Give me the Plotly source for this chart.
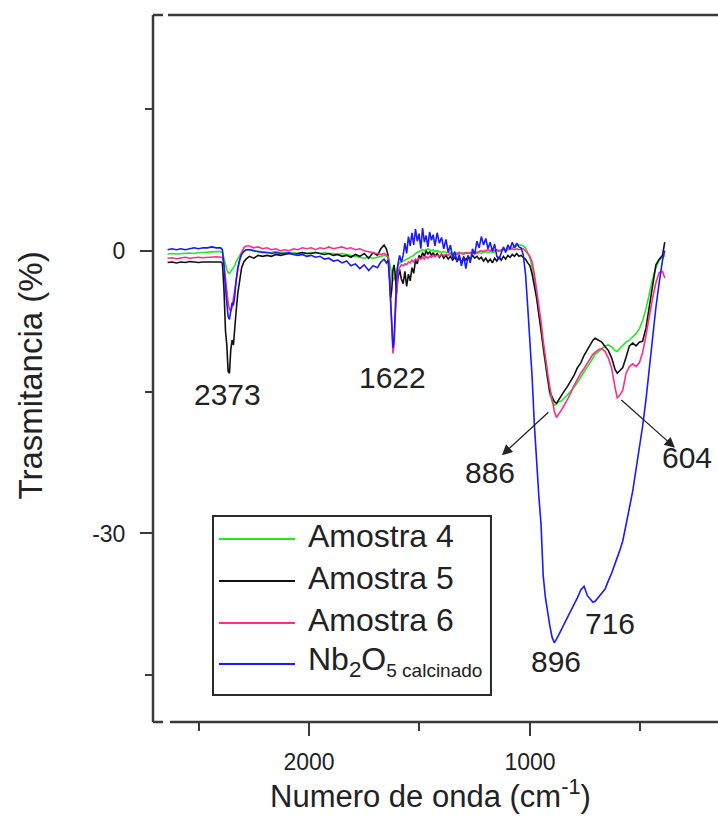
import plotly.graph_objects as go

# FTIR spectra: wavenumber (cm-1, descending) and transmittance (%) of each sample
wavenumber = [
    2640, 2620, 2600, 2580, 2560, 2540, 2520, 2500, 2480, 2460, 2440, 2420, 2400,
    2392, 2385, 2378, 2372, 2366, 2360, 2354, 2348, 2342, 2336, 2330, 2322, 2314, 2305, 2295, 2285,
    2270, 2250, 2230, 2210, 2190, 2170, 2150, 2130, 2110, 2090, 2070, 2050, 2030, 2010, 1990, 1970,
    1950, 1930, 1910, 1890, 1870, 1850, 1830, 1810, 1790, 1770, 1750, 1730, 1710, 1690, 1675, 1660, 1650,
    1642, 1636, 1630, 1625, 1620, 1615, 1610, 1604, 1598, 1590, 1582,
    1574, 1566, 1558, 1550, 1542, 1534, 1526, 1518, 1510, 1502, 1494, 1486, 1478, 1470, 1462, 1454,
    1446, 1438, 1430,
    1420, 1410, 1400, 1390, 1380, 1370, 1360, 1350, 1340, 1330, 1320, 1310, 1300, 1290, 1280, 1270,
    1260, 1250, 1240, 1230, 1220, 1210, 1200, 1190, 1180, 1170, 1160, 1150, 1140, 1130, 1120, 1110,
    1100, 1090, 1080, 1070, 1060, 1050,
    1040, 1030, 1020, 1010, 1000, 990, 980, 970, 960, 950, 940, 930, 920, 910, 900, 890, 880, 870,
    860, 845, 830, 815, 800, 785, 770, 755, 740, 725, 715, 705, 690, 675, 660, 645, 630, 615,
    605, 595, 580, 565, 550, 535, 520, 505, 490, 475, 460, 445, 430, 415, 400, 390,
]

amostra_4 = [
    -0.35, -0.3, -0.35, -0.3, -0.3, -0.25, -0.3, -0.2, -0.2, -0.15, -0.1, -0.1, -0.1,
    -0.2, -0.8, -1.6, -2.0, -2.3, -2.4, -2.2, -2.0, -1.9, -1.6, -1.2, -0.8, -0.5, -0.2, 0.0, 0.1,
    0.1, 0.0, -0.1, -0.1, -0.2, -0.2, -0.1, -0.2, -0.2, -0.3, -0.2, -0.3, -0.2, -0.3, -0.2, -0.2,
    -0.3, -0.2, -0.3, -0.3, -0.4, -0.3, -0.4, -0.5, -0.6, -0.7, -0.8, -0.7, -0.8, -0.7, -0.6, -0.5, -0.6,
    -0.6, -1.2, -2.0, -2.8, -3.2, -3.0, -2.5, -2.0, -1.6, -1.3, -1.2,
    -1.1, -1.0, -0.9, -0.8, -0.7, -0.6, -0.5, -0.3, -0.2, -0.1, 0.0, 0.1, 0.0, 0.1, 0.2, 0.1,
    0.0, 0.1, -0.1,
    0.0, -0.1, -0.2, -0.1, -0.2, -0.2, -0.3, -0.2, -0.3, -0.2, -0.2, -0.3, -0.2, -0.3, -0.2, -0.3,
    -0.3, -0.2, -0.3, -0.2, -0.3, -0.2, -0.1, -0.2, -0.1, -0.2, -0.1, 0.0, -0.1, 0.0, 0.1, 0.0,
    0.1, 0.2, 0.3, 0.4, 0.5, 0.6,
    0.6, 0.5, 0.3, -0.2, -0.8, -1.8, -3.0, -4.8, -6.5, -8.3, -10.5, -12.3, -13.8, -15.3, -16.0, -16.4, -16.3, -16.0,
    -16.0, -15.7, -15.3, -14.9, -14.5, -14.0, -13.4, -12.9, -12.3, -11.8, -11.4, -11.0, -10.7, -10.4, -10.1, -10.0, -10.2, -10.6,
    -10.7, -10.4, -10.0, -9.7, -9.5, -9.2, -8.8, -8.3, -7.4, -6.2, -4.6, -3.0, -1.8, -1.0, -0.7, -0.5,
]

amostra_5 = [
    -1.25, -1.2, -1.3, -1.2, -1.25, -1.15, -1.2, -1.25, -1.2, -1.2, -1.25, -1.2, -1.2,
    -1.3, -4.0, -8.5, -10.0, -12.8, -13.0, -10.5, -9.5, -10.0, -8.0, -6.5, -4.5, -3.0, -1.8, -1.2, -0.9,
    -0.6, -0.8, -0.5, -0.6, -0.5, -0.6, -0.4, -0.5, -0.4, -0.3, -0.4, -0.3, -0.2, -0.3, -0.3, -0.2,
    -0.3, -0.4, -0.3, -0.5, -0.4, -0.6, -0.5, -0.7, -0.4, -0.6, -0.3, -0.8, -0.2, -0.5, 0.2, 0.6, 0.2,
    -0.5, -2.5, -5.0, -4.0, -2.0, -1.5, -2.5, -4.5, -3.0, -2.0, -3.0,
    -3.5, -2.2, -3.8, -2.5, -3.2, -1.8, -2.4, -1.0, -1.4, -0.5, -0.8, -0.2, -0.6, 0.0, -0.4, -0.1,
    -0.5, -0.2, -0.6,
    -0.3, -0.7, -0.4, -0.8, -0.5, -0.9, -0.6, -1.0, -0.7, -1.1, -0.8, -1.2, -0.7, -1.0, -0.6, -0.9,
    -0.5, -0.8, -0.6, -0.9, -0.7, -1.1, -0.8, -1.2, -0.9, -1.3, -0.8, -1.1, -0.7, -1.0, -0.6, -0.9,
    -0.5, -0.7, -0.4, -0.6, -0.3, -0.6,
    -0.5, -0.7, -0.9, -1.3, -1.6, -2.5, -3.6, -5.0, -6.7, -8.5, -10.4, -12.0, -13.5, -15.0, -15.6, -16.0, -16.2, -15.8,
    -15.4, -14.9, -14.4, -13.8, -13.2, -12.4, -11.9, -11.1, -10.5, -9.8, -9.5, -9.3, -9.5, -9.7, -10.2, -10.6, -11.4, -12.6,
    -13.0, -12.8, -12.4, -11.3, -10.1, -9.8, -10.1, -9.7, -9.6, -8.2, -5.8, -3.4, -1.5, -0.9, -0.5, 0.9,
]

amostra_6 = [
    -0.8, -0.75, -0.85, -0.8, -0.7, -0.8, -0.75, -0.7, -0.75, -0.7, -0.7, -0.65, -0.7,
    -0.7, -1.5, -3.0, -4.5, -5.5, -6.2, -6.4, -6.0, -5.0, -4.0, -3.0, -2.0, -1.0, -0.2, 0.3, 0.5,
    0.5, 0.3, 0.4, 0.2, 0.3, 0.1, 0.2, 0.0, 0.1, 0.0, 0.2, 0.1, 0.3, 0.2, 0.3, 0.1,
    0.3, 0.2, 0.4, 0.2, 0.3, 0.4, 0.2, 0.3, 0.1, 0.2, 0.0, -0.1, -0.2, -0.3, -0.4, -0.3, -0.5,
    -0.6, -2.5, -5.0, -8.0, -10.9, -10.0, -7.0, -4.0, -2.5, -1.8, -1.5,
    -1.6, -1.4, -1.5, -1.2, -1.3, -1.0, -1.2, -0.9, -1.0, -0.8, -0.9, -0.7, -0.9, -0.6, -0.8, -0.6,
    -0.7, -0.5, -0.6,
    -0.5, -0.6, -0.4, -0.5, -0.4, -0.5, -0.3, -0.4, -0.3, -0.4, -0.2, -0.3, -0.4, -0.2, -0.3, -0.2,
    -0.3, -0.1, -0.2, -0.1, 0.0, -0.1, 0.0, 0.1, 0.0, 0.1, 0.0, 0.1, 0.0, 0.1, 0.2, 0.1,
    0.2, 0.1, 0.2, 0.1, 0.2, 0.1,
    0.2, 0.2, 0.0, -0.3, -0.6, -1.2, -2.5, -4.0, -5.5, -7.5, -9.6, -11.5, -13.0, -14.5, -16.0, -17.0, -17.7, -17.4,
    -17.0, -16.4, -15.8, -15.1, -14.3, -13.6, -13.0, -12.5, -11.9, -11.4, -11.0, -10.8, -10.5, -10.4, -10.7, -11.4, -12.5, -14.5,
    -15.6, -15.4, -14.8, -13.0, -12.3, -12.0, -12.3, -11.9, -10.8, -9.0, -6.8, -5.0, -3.4, -2.3, -2.2, -2.9,
]

nb2o5_calcinado = [
    0.1, 0.2, 0.1, 0.2, 0.1, 0.2, 0.3, 0.2, 0.3, 0.3, 0.4, 0.3, 0.3,
    0.1, -1.5, -4.0, -6.0, -7.0, -7.3, -6.5, -5.5, -5.8, -4.8, -3.2, -1.8, -1.0, -0.4, -0.1, 0.1,
    0.1, 0.0, -0.1, -0.2, -0.2, -0.3, -0.2, -0.3, -0.3, -0.2, -0.4, -0.5, -0.4, -0.6, -0.5, -0.7,
    -0.6, -0.9, -0.8, -1.1, -1.0, -1.3, -1.1, -1.6, -1.4, -1.9, -1.5, -2.1, -1.6, -1.8, -1.2, -0.9, -1.3,
    -1.0, -3.0, -6.0, -8.5, -10.3, -9.5, -6.5, -3.0, -1.5, -0.5, -1.2,
    -0.5, 0.8, -0.3, 1.5, 0.5, 1.9, 0.6, 2.3, 1.0, 1.8, 0.2, 2.4, 0.9, 1.6, 0.4, 2.0,
    1.1, 1.7, 0.5,
    1.9, 0.8, 1.4, 0.2, 1.2, -0.2, 0.6, -0.8, -0.1, -1.2, -0.4, -1.6, -0.6, -1.9, -0.5, -1.3,
    0.2, -0.4, 1.0, 0.3, 1.5, 0.6, 1.3, 0.2, 0.9, -0.1, 0.7, -0.6, -0.9, -0.3, 0.4, -0.2,
    0.6, 0.2, 0.9, 0.3, 0.8, 0.4,
    0.3, -0.5, -2.5, -6.0, -9.5, -13.5, -18.5, -23.0, -26.0, -29.0, -34.5, -36.8, -38.5, -39.8, -41.0, -41.6, -41.2, -40.8,
    -40.3, -39.6, -38.9, -38.3, -37.6, -36.8, -36.0, -35.6, -36.6, -37.1, -37.3, -37.2, -36.8, -36.4, -35.9, -35.0, -34.2, -33.2,
    -32.6, -31.9, -30.8, -29.2, -27.3, -25.5, -23.3, -21.0, -18.6, -15.8, -12.5, -9.2, -6.0, -3.4, -1.0, 0.0,
]

series_names = ["Amostra 4", "Amostra 5", "Amostra 6",
                "Nb<sub>2</sub>O<sub><span style='font-size:19px'>5 calcinado</span></sub>"]
series_values = [amostra_4, amostra_5, amostra_6, nb2o5_calcinado]
series_colors = ["#22e822", "#111111", "#ff2d8a", "#1a1aff"]

# band positions marked on the spectra
peak_labels = ["2373", "1622", "886", "604", "896", "716"]

# y tick labels (plain hyphen for the negative value)
y_tick_values = [0, -30]
y_tick_text = ["0", "-30"]

AXIS_COLOR = "#3a3a3a"
TEXT_COLOR = "#222222"
FONT = "Arial"

fig = go.Figure()
for name, yv, color in zip(series_names, series_values, series_colors):
    fig.add_trace(go.Scatter(x=wavenumber, y=yv, mode="lines", name=name,
                             line=dict(color=color, width=1.6), showlegend=False))

annotations = []
# peak labels (label text, x, y in data units)
label_pos = [(2367, -15.3), (1624, -13.5), (1181, -23.5), (290, -21.9), (882, -43.6), (638, -39.6)]
for txt, (lx, ly) in zip(peak_labels, label_pos):
    annotations.append(dict(x=lx, y=ly, xref="x", yref="y", text=txt, showarrow=False,
                            font=dict(family=FONT, size=30, color=TEXT_COLOR)))

# arrows from the band minima towards their labels
for (hx, hy), (tx, ty) in [((1127, -21.7), (910, -17.0)), ((344, -20.9), (593, -15.7))]:
    annotations.append(dict(x=hx, y=hy, ax=tx, ay=ty, xref="x", yref="y", axref="x", ayref="y",
                            text="", showarrow=True, arrowhead=2, arrowsize=1.6,
                            arrowwidth=1.3, arrowcolor="#222222"))

# axis titles
annotations.append(dict(x=-0.216, y=0.49, xref="paper", yref="paper", text="Trasmitancia (%)",
                        textangle=-90, showarrow=False, xanchor="center", yanchor="middle",
                        font=dict(family=FONT, size=33, color=TEXT_COLOR)))
annotations.append(dict(x=0.492, y=-0.1025, xref="paper", yref="paper",
                        text="Numero de onda (cm<sup>-1</sup>)", showarrow=False,
                        xanchor="center", yanchor="middle",
                        font=dict(family=FONT, size=31, color=TEXT_COLOR)))

shapes = []
# frame: left axis, top and bottom lines with a small break at the left corners
line_style = dict(color=AXIS_COLOR, width=2.5)
shapes.append(dict(type="line", xref="paper", yref="paper", x0=0, x1=0, y0=0, y1=1, line=line_style))
for yy, start in [(1, 15), (0, 17)]:
    shapes.append(dict(type="line", xref="paper", yref="paper", xsizemode="pixel", xanchor=0,
                       x0=0, x1=10, y0=yy, y1=yy, line=line_style))
    shapes.append(dict(type="line", xref="paper", yref="paper", xsizemode="pixel", xanchor=0,
                       x0=start, x1=620, y0=yy, y1=yy, line=line_style))

# legend box drawn inside the plot
leg_x0, leg_x1, leg_y0, leg_y1 = 0.1062, 0.5982, 0.0382, 0.2914
shapes.append(dict(type="rect", xref="paper", yref="paper", x0=leg_x0, x1=leg_x1, y0=leg_y0, y1=leg_y1,
                   line=dict(color="#2a2a2a", width=2), fillcolor="rgba(255,255,255,0)"))
leg_rows = [0.2588, 0.1994, 0.1400, 0.0820]
for name, color, ry in zip(series_names, series_colors, leg_rows):
    shapes.append(dict(type="line", xref="paper", yref="paper", x0=0.1168, x1=0.2513, y0=ry, y1=ry,
                       line=dict(color=color, width=2)))
    annotations.append(dict(x=0.2708, y=ry + 0.004, xref="paper", yref="paper", text=name,
                            showarrow=False, xanchor="left", yanchor="middle",
                            font=dict(family=FONT, size=32, color=TEXT_COLOR)))

fig.update_layout(
    width=718, height=818,
    margin=dict(l=153, r=0, t=15, b=96),
    paper_bgcolor="white", plot_bgcolor="white",
    font=dict(family=FONT, color=TEXT_COLOR),
    showlegend=False,
    annotations=annotations,
    shapes=shapes,
    xaxis=dict(range=[2706, 149], showgrid=False, zeroline=False, showline=False,
               tickmode="linear", tick0=0, dtick=1000, ticks="outside", ticklen=13,
               tickwidth=2, tickcolor=AXIS_COLOR, ticklabelstandoff=6,
               tickfont=dict(family=FONT, size=23, color=TEXT_COLOR),
               minor=dict(ticks="outside", tickmode="linear", dtick=500, tick0=0, ticklen=8,
                          tickwidth=2, tickcolor=AXIS_COLOR)),
    yaxis=dict(range=[-50, 25], showgrid=False, zeroline=False, showline=False,
               tickmode="array", tickvals=y_tick_values, ticktext=y_tick_text,
               ticks="outside", ticklen=12,
               tickwidth=2, tickcolor=AXIS_COLOR, ticklabelstandoff=10,
               tickfont=dict(family=FONT, size=23, color=TEXT_COLOR),
               minor=dict(ticks="outside", tickmode="linear", dtick=15, tick0=0, ticklen=7,
                          tickwidth=2, tickcolor=AXIS_COLOR)),
)

fig.write_html("out.html")
